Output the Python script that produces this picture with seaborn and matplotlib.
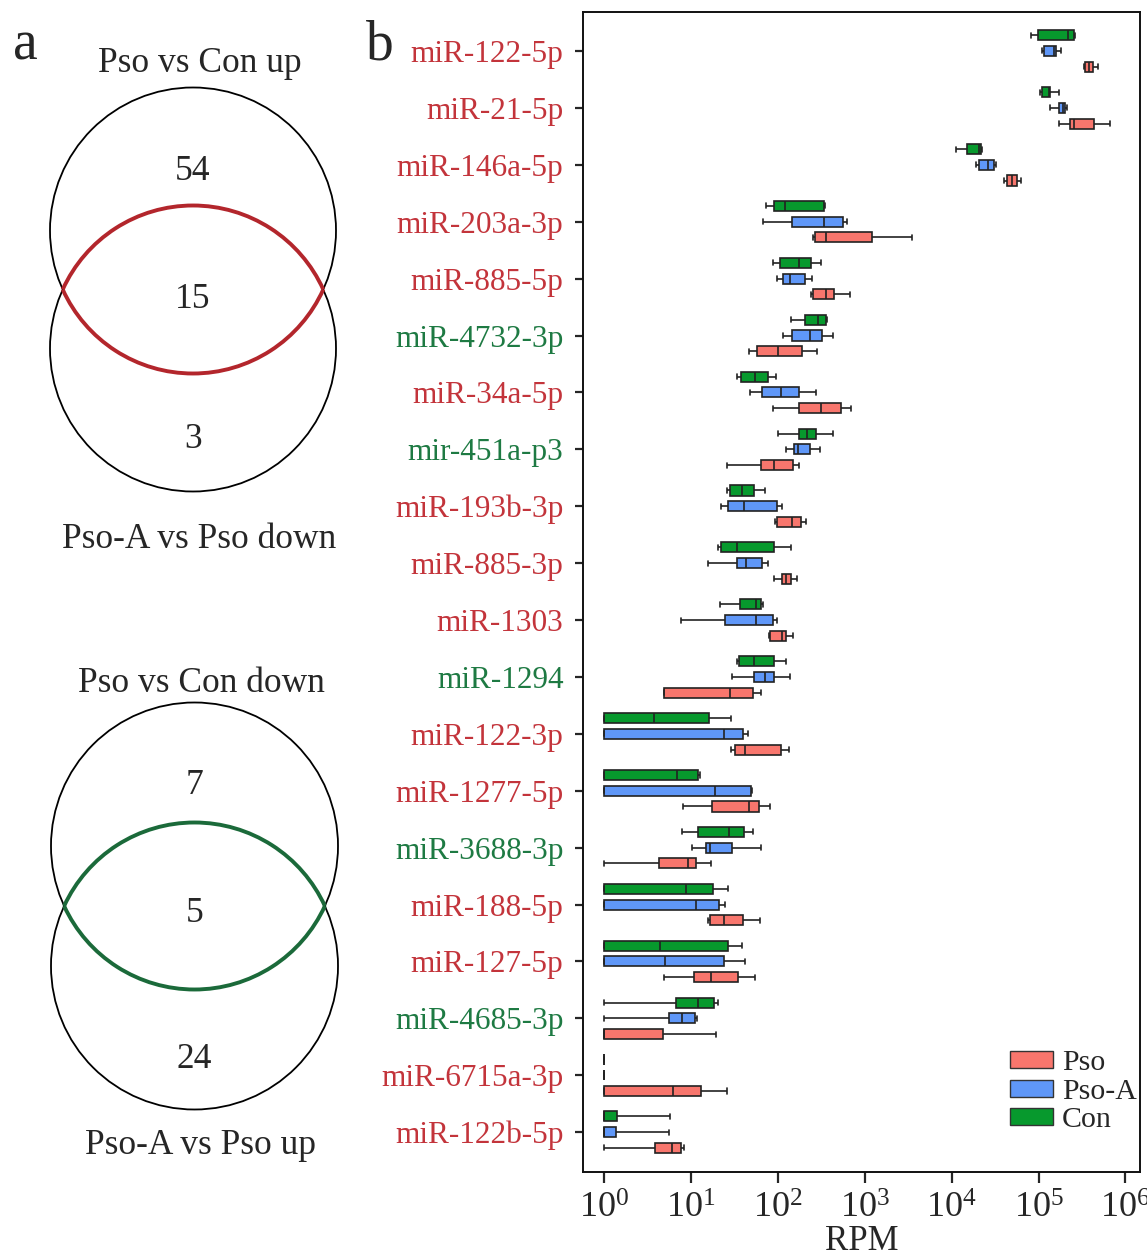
import numpy as np
import pandas as pd
import matplotlib
matplotlib.use('Agg')
import matplotlib.pyplot as plt
from matplotlib.patches import Circle, Arc, Patch
from matplotlib.ticker import NullLocator
import seaborn as sns

# miRNAs, top to bottom
mirnas = ['miR-122-5p', 'miR-21-5p', 'miR-146a-5p', 'miR-203a-3p', 'miR-885-5p',
          'miR-4732-3p', 'miR-34a-5p', 'mir-451a-p3', 'miR-193b-3p', 'miR-885-3p',
          'miR-1303', 'miR-1294', 'miR-122-3p', 'miR-1277-5p', 'miR-3688-3p',
          'miR-188-5p', 'miR-127-5p', 'miR-4685-3p', 'miR-6715a-3p', 'miR-122b-5p']
green_labels = ['miR-4732-3p', 'mir-451a-p3', 'miR-1294', 'miR-3688-3p', 'miR-4685-3p']

# [min, q1, median, q3, max] in RPM
con_stats = [
    [82000, 98000, 220000, 255000, 264000],
    [104000, 109000, 131000, 135000, 173000],
    [11100, 15100, 20500, 21700, 22100],
    [73, 91, 122, 342, 345],
    [87, 106, 177, 238, 311],
    [142, 208, 288, 359, 366],
    [34, 37.4, 55, 77.5, 95],
    [99.5, 177, 214, 277, 435],
    [25.7, 28.3, 38.9, 53.8, 71],
    [20.7, 22.1, 34.3, 91, 143],
    [21.7, 37, 56.5, 64.6, 67],
    [33.7, 36, 52.8, 89.5, 125],
    [1, 1, 3.75, 16.1, 28.9],
    [1, 1, 7.0, 12.0, 12.6],
    [8.0, 12.1, 27.8, 40.4, 52.3],
    [1, 1, 8.9, 18.2, 26.5],
    [1, 1, 4.4, 26.5, 38.5],
    [1, 6.7, 12.0, 18.6, 20.3],
    [1, 1, 1, 1, 1],
    [1, 1, 1, 1.43, 5.8],
]
psoa_stats = [
    [109000, 116000, 150000, 158000, 179000],
    [135000, 172000, 191000, 202000, 214000],
    [19100, 20700, 26000, 30900, 32400],
    [67, 147, 342, 569, 620],
    [97.5, 114, 138, 208, 249],
    [114, 146, 235, 320, 427],
    [48.5, 65, 108, 175, 272],
    [124, 152, 172, 235, 305],
    [22.3, 26.5, 40.8, 98.4, 113],
    [15.6, 33.7, 43.6, 65, 78],
    [7.8, 25, 56, 87, 97],
    [30, 53.3, 71.8, 90.3, 138],
    [1, 1, 24.3, 40, 45],
    [1, 1, 19.1, 49.4, 50.8],
    [10.4, 15.1, 16.4, 29.7, 64.6],
    [1, 1, 11.4, 21.3, 24.8],
    [1, 1, 5.0, 23.9, 42.4],
    [1, 5.6, 7.85, 11.2, 11.8],
    [1, 1, 1, 1, 1],
    [1, 1, 1, 1.37, 5.6],
]
pso_stats = [
    [333000, 346000, 384000, 423000, 489000],
    [172000, 229000, 257000, 435000, 664000],
    [40400, 43300, 49000, 56000, 63400],
    [257, 269, 362, 1224, 3480],
    [240, 252, 356, 443, 670],
    [46.6, 57, 101, 191, 280],
    [87, 177, 317, 527, 689],
    [26, 63.4, 89.5, 149, 177],
    [93, 97.5, 144, 187, 210],
    [89.5, 113, 125, 142, 167],
    [79.8, 82.1, 113, 123, 150],
    [4.9, 4.95, 28.1, 52.3, 64],
    [28.9, 32.4, 42, 110, 133],
    [8.1, 17.4, 46.2, 60.4, 81.3],
    [1, 4.33, 9.2, 11.5, 16.9],
    [15.8, 16.4, 23.9, 39.6, 62.2],
    [4.95, 10.8, 16.9, 35.3, 54.9],
    [1, 1, 1, 4.77, 19.3],
    [1, 1, 6.24, 13.0, 25.7],
    [1, 3.83, 6.06, 7.63, 8.31],
]

venn_up_counts = [54, 15, 3]
venn_down_counts = [7, 5, 24]

rows = []
for name, c, a, p in zip(mirnas, con_stats, psoa_stats, pso_stats):
    for grp, st in (('Con', c), ('Pso-A', a), ('Pso', p)):
        for v in st:
            rows.append((name, grp, v))
df = pd.DataFrame(rows, columns=['mirna', 'group', 'rpm'])

pal = {'Pso': '#f8766d', 'Pso-A': '#5f97f8', 'Con': '#07992d'}
red_txt = '#c3343b'
green_txt = '#1e7a43'

sns.set_style('ticks')
plt.rcParams['font.family'] = ['Liberation Serif', 'DejaVu Serif']
plt.rcParams['mathtext.fontset'] = 'stix'

fig = plt.figure(figsize=(11.47, 12.57), dpi=100)

# ---- panel b: box plots
ax = fig.add_axes([583 / 1147, 1 - 1172 / 1257, (1140 - 583) / 1147, (1172 - 12) / 1257])
sns.boxplot(data=df, x='rpm', y='mirna', hue='group', order=mirnas,
            hue_order=['Con', 'Pso-A', 'Pso'], palette=pal, saturation=1,
            whis=(0, 100), width=0.83, gap=0.36, log_scale=True,
            linecolor='#222222', linewidth=1.2, legend=False, ax=ax)
ax.set_xticks(10.0 ** np.arange(0, 7))
ax.xaxis.set_minor_locator(NullLocator())
ax.set_xlim(10 ** -0.241, 10 ** 6.167)
ax.set_ylim(19.70, -0.685)
ax.set_ylabel('')
ax.set_xlabel('RPM', fontsize=25, labelpad=-1)
ax.tick_params(axis='x', labelsize=26, length=8, width=1.6, pad=7)
ax.tick_params(axis='y', labelsize=22.5, length=6, width=1.6, pad=8)
for lab in ax.get_yticklabels():
    lab.set_color(green_txt if lab.get_text() in green_labels else red_txt)
for sp in ax.spines.values():
    sp.set_visible(True)
    sp.set_linewidth(1.4)
    sp.set_color('#111111')

handles = [Patch(facecolor=pal[g], edgecolor='#333333', label=g) for g in ['Pso', 'Pso-A', 'Con']]
ax.legend(handles=handles, loc='lower right', bbox_to_anchor=(1.0, 0.031), frameon=False,
          fontsize=21.5, handlelength=1.45, handleheight=0.5, labelspacing=0.08,
          handletextpad=0.3, borderaxespad=0.0, borderpad=0.1)

# ---- panel a: venn diagrams (drawn in pixel units)
axa = fig.add_axes([0, 0, 573.5 / 1147, 1])
axa.set_xlim(0, 573.5)
axa.set_ylim(1257, 0)
axa.axis('off')


def venn(cx, cy1, cy2, r, color, counts, top_title, bottom_title, ty, by, ny):
    for cy in (cy1, cy2):
        axa.add_patch(Circle((cx, cy), r, fill=False, ec='black', lw=1.3))
    th = np.degrees(np.arcsin((cy2 - cy1) / 2 / r))
    axa.add_patch(Arc((cx, cy1), 2 * r, 2 * r, theta1=th, theta2=180 - th, color=color, lw=2.8))
    axa.add_patch(Arc((cx, cy2), 2 * r, 2 * r, theta1=180 + th, theta2=360 - th, color=color, lw=2.8))
    axa.text(cx + 7, ty, top_title, fontsize=25.5, ha='center', va='center')
    axa.text(cx + 6, by, bottom_title, fontsize=25.5, ha='center', va='center')
    for n, y in zip(counts, ny):
        axa.text(cx, y, str(n), fontsize=25.5, ha='center', va='center')


venn(193, 230.5, 348.5, 143, '#b3262c', venn_up_counts, 'Pso vs Con up',
     'Pso-A vs Pso down', 63, 540, [172, 300, 440])
venn(194.5, 846, 966, 143.5, '#1b6a3a', venn_down_counts, 'Pso vs Con down',
     'Pso-A vs Pso up', 684, 1145, [785, 914, 1059])

axa.text(25, 45, 'a', fontsize=40, ha='center', va='center')
axa.text(380, 45, 'b', fontsize=40, ha='center', va='center')

plt.savefig('out.png', dpi=100)
